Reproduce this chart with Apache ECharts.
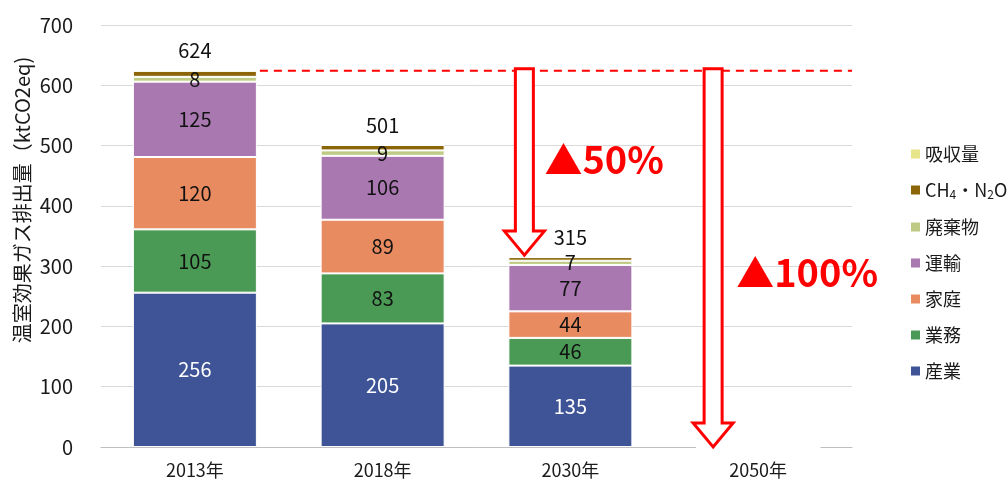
<!DOCTYPE html>
<html>
<head>
<meta charset="utf-8">
<script src="https://cdn.jsdelivr.net/npm/echarts@6/dist/echarts.min.js"></script>
<style>
  html, body { margin: 0; padding: 0; background: #fff; }
  #main { width: 1008px; height: 485px; }
</style>
</head>
<body>
<div id="main"></div>
<script>
const categories = ['2013年', '2018年', '2030年', '2050年'];
const sangyo = [256, 205, 135, 0];
const gyomu = [105, 83, 46, 0];
const katei = [120, 89, 44, 0];
const unyu = [125, 106, 77, 0];
const haikibutsu = [8, 9, 7, 0];
const ch4n2o = [10, 9, 6, 0];
const kyushu = [0, 0, 0, 0];
const totals = [624, 501, 315, null];
const yTicks = [0, 100, 200, 300, 400, 500, 600, 700];

const font = '"Noto Sans CJK JP", "Noto Sans", sans-serif';
const chart = echarts.init(document.getElementById('main'));

function inner(color) {
  return {
    show: true,
    position: 'inside',
    color: color,
    fontSize: 20,
    fontFamily: font,
    formatter: function (p) { return p.value ? String(p.value) : ''; }
  };
}

function seg(name, data, color, label) {
  return {
    name: name,
    type: 'bar',
    stack: 'total',
    barWidth: 124,
    data: data,
    itemStyle: { color: color, borderColor: '#fff', borderWidth: 1 },
    label: label || { show: false },
    emphasis: { disabled: true }
  };
}

const option = {
  backgroundColor: '#fff',
  animation: false,
  textStyle: { fontFamily: font },
  grid: { left: 101, right: 156, top: 25, bottom: 38 },
  legend: {
    orient: 'vertical',
    left: 906,
    top: 140,
    icon: 'rect',
    itemWidth: 9,
    itemHeight: 9,
    itemGap: 18,
    itemStyle: { borderWidth: 0 },
    data: ['吸収量', 'CH4・N2O', '廃棄物', '運輸', '家庭', '業務', '産業'],
    textStyle: {
      fontSize: 18,
      color: '#1a1a1a',
      fontFamily: font,
      rich: {
        sub: { fontSize: 12, verticalAlign: 'bottom', padding: [8, 0, 0, 0], color: '#1a1a1a' }
      }
    },
    formatter: function (n) {
      return n === 'CH4・N2O' ? 'CH{sub|4}・N{sub|2}O' : n;
    }
  },
  xAxis: {
    type: 'category',
    data: categories,
    axisTick: { show: false },
    axisLine: { lineStyle: { color: '#bfbfbf', width: 1 } },
    axisLabel: { color: '#1a1a1a', fontSize: 18, margin: 14 }
  },
  yAxis: {
    type: 'value',
    min: yTicks[0],
    max: yTicks[yTicks.length - 1],
    interval: 100,
    axisLabel: { color: '#1a1a1a', fontSize: 20, margin: 28 },
    splitLine: { lineStyle: { color: '#d9d9d9', width: 1 } }
  },
  series: [
    seg('産業', sangyo, '#3f5497', inner('#ffffff')),
    seg('業務', gyomu, '#4a9a56', inner('#111')),
    seg('家庭', katei, '#e98b60', inner('#111')),
    seg('運輸', unyu, '#a978b0', inner('#111')),
    seg('廃棄物', haikibutsu, '#bfcb84', inner('#111')),
    seg('CH4・N2O', ch4n2o, '#8b6508', {
      show: true,
      position: 'top',
      distance: 10,
      color: '#111',
      fontSize: 20,
      fontFamily: font,
      formatter: function (p) { return totals[p.dataIndex] == null ? '' : String(totals[p.dataIndex]); }
    }),
    seg('吸収量', kyushu, '#e8e48a')
  ]
};

chart.setOption(option);

// annotations placed through the chart's own scales
function px(cat, v) { return chart.convertToPixel({ gridIndex: 0 }, [cat, v]); }

function arrow(cx, yTop, yTip) {
  const sw = 9, hw = 20, hh = 24;
  return {
    type: 'polygon',
    shape: {
      points: [
        [cx - sw, yTop], [cx + sw, yTop], [cx + sw, yTip - hh], [cx + hw, yTip - hh],
        [cx, yTip], [cx - hw, yTip - hh], [cx - sw, yTip - hh]
      ]
    },
    style: { fill: '#fff', stroke: '#ff0000', lineWidth: 3 },
    z: 100
  };
}

const base = totals[0];
const top2013 = px(categories[0], base);
const c2030 = px(categories[2], base);
const c2050 = px(categories[3], base);
const tip2030 = px(categories[2], totals[2]);
const zero2050 = px(categories[3], 0);
const gridRight = 1008 - 156;

chart.setOption({
  graphic: [
    {
      type: 'text',
      x: 22,
      y: 200,
      rotation: Math.PI / 2,
      style: {
        text: '温室効果ガス排出量（ktCO2eq)',
        fill: '#1a1a1a',
        font: '20px ' + font,
        textAlign: 'center',
        textVerticalAlign: 'middle'
      }
    },
    {
      type: 'line',
      shape: { x1: top2013[0] + 65, y1: top2013[1], x2: gridRight, y2: top2013[1] },
      style: { stroke: '#ff0000', lineWidth: 2, lineDash: [8, 6] },
      z: 90
    },
    arrow(c2030[0] - 46, top2013[1] - 2, tip2030[1] - 2),
    arrow(c2050[0] - 45, top2013[1] - 2, zero2050[1]),
    {
      type: 'text',
      x: c2030[0] - 26,
      y: px(categories[2], 476)[1],
      style: { text: '▲50%', fill: '#ff0000', font: 'bold 38px ' + font, textVerticalAlign: 'middle' },
      z: 100
    },
    {
      type: 'text',
      x: c2050[0] - 22,
      y: px(categories[3], 290)[1],
      style: { text: '▲100%', fill: '#ff0000', font: 'bold 38px ' + font, textVerticalAlign: 'middle' },
      z: 100
    }
  ]
});
</script>
</body>
</html>
